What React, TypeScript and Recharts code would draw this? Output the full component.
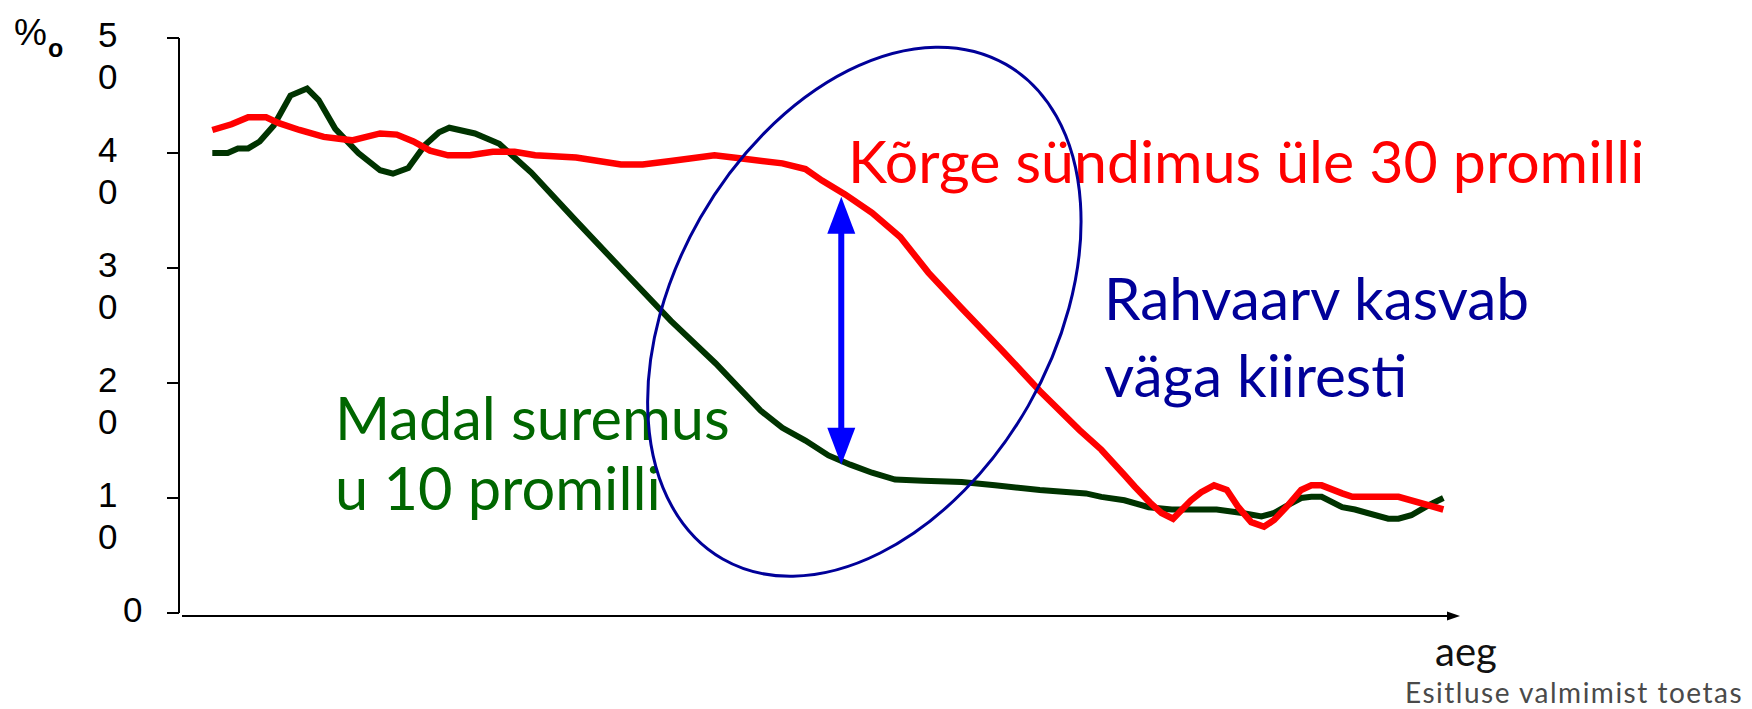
import React from "react"
import { LineChart, Line, XAxis, YAxis, ReferenceLine, ReferenceDot } from "recharts"

// time runs 0..100 along the axis (no units on the original, just "aeg")
const birthTime = [
  2.6, 4.1, 5.4, 6.8, 7.8, 9.4, 11.3, 13.5, 15.7, 17.0, 18.3, 19.6, 21.0, 22.7, 24.5, 26.2, 27.8,
  31.0, 34.5, 36.2, 38.4, 41.8, 44.1, 47.1, 48.9, 50.2, 52.0, 54.1, 56.3, 58.5, 61.1, 64.2, 67.2,
  70.3, 72.0, 73.8, 74.6, 75.8, 76.7, 77.6, 79.0, 79.8, 80.8, 81.8, 82.7, 83.7, 84.7, 85.5, 86.6,
  87.6, 88.4, 89.2, 90.8, 91.6, 95.2, 98.7,
]
const birthRate = [
  42.0, 42.5, 43.1, 43.1, 42.6, 42.0, 41.4, 41.1, 41.7, 41.6, 41.0, 40.2, 39.8, 39.8, 40.1, 40.1, 39.8,
  39.6, 39.0, 39.0, 39.3, 39.8, 39.5, 39.1, 38.6, 37.6, 36.4, 34.8, 32.7, 29.6, 26.5, 22.9, 19.3,
  15.9, 14.2, 12.0, 11.0, 9.6, 8.7, 8.2, 9.8, 10.5, 11.1, 10.7, 9.2, 7.9, 7.5, 8.1, 9.4,
  10.7, 11.1, 11.1, 10.4, 10.1, 10.1, 9.0,
]

const deathTime = [
  2.6, 3.8, 4.6, 5.4, 6.3, 7.4, 8.7, 10.0, 10.9, 12.2, 14.0, 15.7, 16.7, 17.9, 19.2, 20.3, 21.1,
  23.1, 25.0, 27.5, 31.0, 34.9, 38.4, 41.9, 45.4, 47.1, 48.9, 50.7, 52.4, 54.1, 55.9, 58.1, 61.1,
  63.7, 67.2, 70.8, 72.0, 73.8, 75.7, 77.5, 81.0, 83.0, 84.5, 85.5, 86.6, 87.6, 88.4, 89.2, 90.8,
  91.8, 94.4, 95.2, 96.2, 97.6, 98.7,
]
const deathRate = [
  40.0, 40.0, 40.4, 40.4, 41.0, 42.4, 45.0, 45.6, 44.6, 42.1, 40.0, 38.5, 38.2, 38.7, 40.7, 41.8, 42.2,
  41.7, 40.8, 38.3, 34.1, 29.5, 25.4, 21.7, 17.6, 16.1, 15.0, 13.7, 12.9, 12.2, 11.6, 11.5, 11.4,
  11.1, 10.7, 10.4, 10.1, 9.8, 9.2, 9.0, 9.0, 8.7, 8.4, 8.7, 9.4, 10.0, 10.1, 10.1, 9.2,
  9.0, 8.2, 8.2, 8.5, 9.4, 10.0,
]

const yTicks = [0, 10, 20, 30, 40, 50]

// gap arrow and the ellipse round it, in data units
const gapArrowTime = 51.7
const gapArrowTop = 36.2
const gapArrowBottom = 12.9
const ellipseTime = 53.5
const ellipseRate = 26.2

const birthData = birthTime.map((t, i) => ({ t, v: birthRate[i] }))
const deathData = deathTime.map((t, i) => ({ t, v: deathRate[i] }))

const COLORS = {
  birth: "#ff0000",
  death: "#003300",
  deathText: "#006600",
  growth: "#000099",
  arrow: "#0000ff",
  axis: "#000000",
  credit: "#4a4a4a",
}

const W = 1736
const H = 693
const LABEL_FONT = "Lato, 'Open Sans', sans-serif"
const AXIS_FONT = "'Liberation Sans', Arial, sans-serif"

function YTick(props: any) {
  const { x, y, payload } = props
  const s = String(payload.value)
  if (s.length === 1) {
    return <text x={x - 44} y={y + 9} fontSize={35} fontFamily={AXIS_FONT} fill={COLORS.axis}>{s}</text>
  }
  // the original wraps the two digits onto two lines
  return (
    <text x={x - 69} y={y + 9} fontSize={35} fontFamily={AXIS_FONT} fill={COLORS.axis}>
      <tspan x={x - 69}>{s[0]}</tspan>
      <tspan x={x - 69} dy={42}>{s[1]}</tspan>
    </text>
  )
}

function TimeAxis(props: any) {
  const { x1, y1, x2 } = props
  const y = y1 + 3
  return (
    <g>
      <line x1={x1 + 3} y1={y} x2={x2 - 8} y2={y} stroke={COLORS.axis} strokeWidth={2} />
      <polygon points={`${x2},${y} ${x2 - 13},${y - 4.5} ${x2 - 13},${y + 4.5}`} fill={COLORS.axis} />
    </g>
  )
}

function GapArrow(props: any) {
  const { x1, y1, y2 } = props
  const head = 37
  const half = 14
  return (
    <g>
      <line x1={x1} y1={y1 + head - 2} x2={x1} y2={y2 - head + 2} stroke={COLORS.arrow} strokeWidth={6} />
      <polygon points={`${x1},${y1} ${x1 - half},${y1 + head} ${x1 + half},${y1 + head}`} fill={COLORS.arrow} />
      <polygon points={`${x1},${y2} ${x1 - half},${y2 - head} ${x1 + half},${y2 - head}`} fill={COLORS.arrow} />
    </g>
  )
}

function GrowthEllipse(props: any) {
  const { cx, cy } = props
  return (
    <ellipse
      cx={cx}
      cy={cy}
      rx={285}
      ry={189}
      transform={`rotate(-60.2 ${cx} ${cy})`}
      fill="none"
      stroke={COLORS.growth}
      strokeWidth={3}
    />
  )
}

export default function App() {
  return (
    <div style={{ position: "relative", width: W, height: H + 8 }}>
      <svg width={W} height={H + 8} style={{ position: "absolute", left: 0, top: 0 }}>
        <text x={6} y={37} fontSize={37} fontFamily={AXIS_FONT} fill={COLORS.axis}>%</text>
        <text x={40} y={49} fontSize={25} fontWeight="bold" fontFamily={AXIS_FONT} fill={COLORS.axis}>o</text>

        <text x={840} y={175} fontSize={59} fontFamily={LABEL_FONT} fill={COLORS.birth}>Kõrge sündimus üle 30 promilli</text>
        <text fontSize={58.5} fontFamily={LABEL_FONT} fill={COLORS.growth}>
          <tspan x={1096} y={312}>Rahvaarv kasvab</tspan>
          <tspan x={1096} y={389}>väga kiiresti</tspan>
        </text>
        <text fontSize={59.5} fontFamily={LABEL_FONT} fill={COLORS.deathText}>
          <tspan x={327} y={432}>Madal suremus</tspan>
          <tspan x={327} y={502}>u 10 promilli</tspan>
        </text>

        <text x={1427} y={658} fontSize={40} fontFamily={LABEL_FONT} fill="#111">aeg</text>
        <text x={1397} y={695} fontSize={28} letterSpacing={1.5} fontFamily={LABEL_FONT} fill={COLORS.credit}>Esitluse valmimist toetas</text>
      </svg>

      <div style={{ position: "relative" }}>
        <LineChart width={W} height={H} margin={{ top: 30, right: 284, bottom: 88, left: 71 }}>
          <XAxis dataKey="t" type="number" domain={[0, 100]} hide />
          <YAxis
            type="number"
            domain={[0, 50]}
            ticks={yTicks}
            width={100}
            tickSize={12}
            tickMargin={0}
            axisLine={{ stroke: COLORS.axis, strokeWidth: 2 }}
            tickLine={{ stroke: COLORS.axis, strokeWidth: 2 }}
            tick={<YTick />}
          />
          <ReferenceLine y={0} shape={TimeAxis} />
          <Line data={deathData} dataKey="v" type="linear" stroke={COLORS.death} strokeWidth={6} dot={false} isAnimationActive={false} />
          <Line data={birthData} dataKey="v" type="linear" stroke={COLORS.birth} strokeWidth={6.5} dot={false} isAnimationActive={false} />
          <ReferenceDot x={ellipseTime} y={ellipseRate} r={1} shape={GrowthEllipse} />
          <ReferenceLine
            segment={[{ x: gapArrowTime, y: gapArrowTop }, { x: gapArrowTime, y: gapArrowBottom }]}
            shape={GapArrow}
          />
        </LineChart>
      </div>
    </div>
  )
}
